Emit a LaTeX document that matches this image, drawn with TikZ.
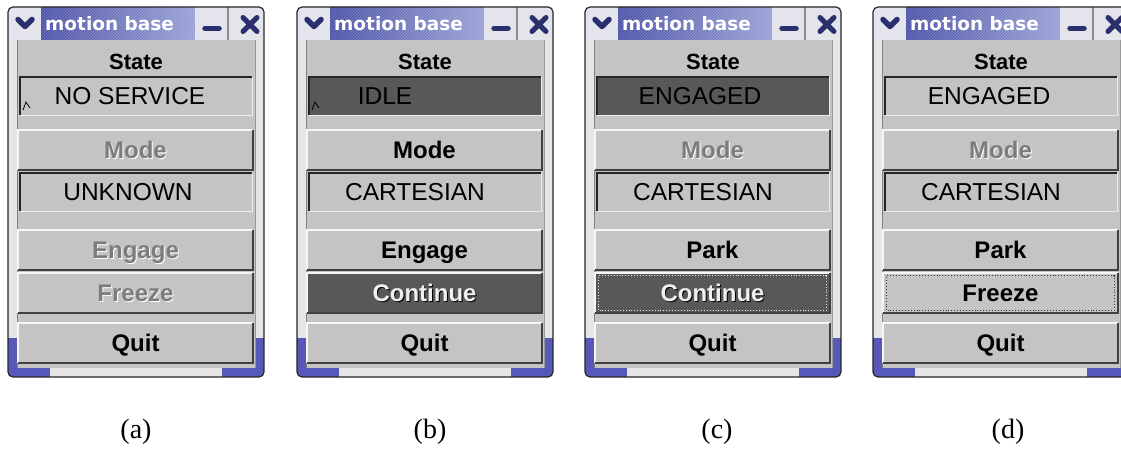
\documentclass[tikz,border=0pt]{standalone}
\usepackage{fontspec}
\setmainfont{Liberation Serif}
\newfontfamily\guifont{Liberation Sans}
\newfontfamily\titlefont{DejaVu Sans}
\usetikzlibrary{calc,patterns}
\definecolor{winGray}{HTML}{C4C4C4}
\definecolor{frameLight}{HTML}{E6E6E6}
\definecolor{darkField}{HTML}{585858}
\definecolor{navy}{HTML}{2B2F6E}
\definecolor{titleL}{HTML}{4A50A6}
\definecolor{titleR}{HTML}{98A0D6}
\definecolor{bandBlue}{HTML}{5659B9}
\definecolor{iconBg}{HTML}{E4E4EC}
\definecolor{disText}{HTML}{7C7C7C}
\newcommand\emb[3]{\makebox[0pt]{\hspace*{2pt}\raisebox{-1.2pt}{\color{#2}#1}}\makebox[0pt]{\color{#3}#1}}
\newcommand\sunken[1]{%
  \draw[white!85!gray, line width=1pt] (#1.south west)--(#1.south east)--(#1.north east);
  \draw[black!85, line width=1.6pt] (#1.south west)--(#1.north west)--(#1.north east);}
\newcommand\raised[1]{%
  \draw[white!85!winGray, line width=1.5pt] (#1.south west)--(#1.north west)--(#1.north east);
  \draw[black!75, line width=1.5pt] (#1.south west)--(#1.south east)--(#1.north east);}
\newcommand\mbframe[1]{%
  \begin{scope}
    \clip[rounded corners=5pt] (0,7) rectangle (256,377);
    \fill[frameLight] (0,7) rectangle (256,377);
    \fill[bandBlue] (0,338) rectangle (9,377);
    \fill[bandBlue] (247,338) rectangle (256,377);
    \fill[bandBlue] (0,368) rectangle (42,377);
    \fill[bandBlue] (214,368) rectangle (256,377);
    \fill[winGray] (9,40) rectangle (247,368);
    \fill[iconBg] (0,7) rectangle (33,40);
    \shade[left color=titleL, right color=titleR] (33,7) rectangle (187,40);
    \fill[pattern=north east lines, pattern color=white, opacity=0.25] (33,7) rectangle (187,40);
    \fill[iconBg] (187,7) rectangle (219,40);
    \fill[black!45] (219,7) rectangle (221,40);
    \fill[iconBg] (221,7) rectangle (256,40);
  \end{scope}
  \draw[black!85, line width=1.2pt, rounded corners=5pt] (0,7) rectangle (256,377);
  \draw[black!50, line width=0.6pt] (9,40) -- (9,368);
  \draw[black!40, line width=0.6pt] (247,40) -- (247,368);
  \draw[navy, line width=5.5pt, line cap=round, line join=round] (10,19.5) -- (17,26.5) -- (24,19.5);
  \draw[navy, line width=5.5pt, line cap=round] (197,28.5) -- (211,28.5);
  \draw[navy, line width=5pt, line cap=round] (235,17.5) -- (249,31.5) (235,31.5) -- (249,17.5);
  \node[titletext, anchor=west] (#1-title) at (37,23.5) {motion base};}
\tikzset{
  gui/.style={font=\guifont\fontsize{24.5}{24.5}\selectfont, inner sep=0pt, text height=17pt, text depth=0pt},
  fieldbox/.style={inner sep=0pt, minimum width=232pt, minimum height=38pt, fill=winGray},
  darkfieldbox/.style={fieldbox, fill=darkField},
  fieldtext/.style={gui, text=black},
  btn/.style={inner sep=0pt, minimum width=235pt, minimum height=40pt, fill=winGray,
    font=\guifont\bfseries\fontsize{24}{24}\selectfont, text height=17pt, text depth=0pt},
  darkbtn/.style={btn, fill=darkField},
  statelbl/.style={font=\guifont\bfseries\fontsize{22}{22}\selectfont, inner sep=0pt, text height=15.5pt, text depth=0pt},
  titletext/.style={font=\titlefont\bfseries\fontsize{18.5}{18.5}\selectfont, text=white, inner sep=0pt},
  caption/.style={font=\rmfamily\fontsize{28}{28}\selectfont, inner sep=0pt},
  caretmark/.style={black, line width=0.8pt},
  focusbox/.style={dotted, line width=0.9pt},
}
\begin{document}
\begin{tikzpicture}[x=1pt, y=-1pt]
\useasboundingbox (0,0) rectangle (1121,452);
\fill[white] (0,0) rectangle (1121,452);
% ---------- (a)
\begin{scope}[xshift=8pt]
  \mbframe{a}
  \node[statelbl] (a-statelbl) at (128,62) {State};
  \node[fieldbox] (a-state) at (128,96) {}; \sunken{a-state}
  \node[fieldtext] (a-statetext) at (122,96) {NO SERVICE};
  \draw[caretmark] (15,110) -- (18,102) -- (22,108);
  \node[btn] (a-mode) at (127.5,150) {\emb{Mode}{white}{disText}}; \raised{a-mode}
  \node[fieldbox] (a-modefield) at (128,192) {}; \sunken{a-modefield}
  \node[fieldtext] (a-modetext) at (120,192) {UNKNOWN};
  \node[btn] (a-b1) at (127.5,250) {\emb{Engage}{white}{disText}}; \raised{a-b1}
  \node[btn] (a-b2) at (127.5,293) {\emb{Freeze}{white}{disText}}; \raised{a-b2}
  \node[btn] (a-quit) at (127.5,343) {Quit}; \raised{a-quit}
\end{scope}
% ---------- (b)
\begin{scope}[xshift=297pt]
  \mbframe{b}
  \node[statelbl] (b-statelbl) at (128,62) {State};
  \node[darkfieldbox] (b-state) at (128,96) {}; \sunken{b-state}
  \node[fieldtext] (b-statetext) at (88,96) {IDLE};
  \draw[caretmark] (15,110) -- (18,102) -- (22,108);
  \node[btn] (b-mode) at (127.5,150) {Mode}; \raised{b-mode}
  \node[fieldbox] (b-modefield) at (128,192) {}; \sunken{b-modefield}
  \node[fieldtext] (b-modetext) at (118,192) {CARTESIAN};
  \node[btn] (b-b1) at (127.5,250) {Engage}; \raised{b-b1}
  \node[darkbtn] (b-b2) at (127.5,293) {\emb{Continue}{black}{white!88!gray}}; \raised{b-b2}
  \node[btn] (b-quit) at (127.5,343) {Quit}; \raised{b-quit}
\end{scope}
% ---------- (c)
\begin{scope}[xshift=585pt]
  \mbframe{c}
  \node[statelbl] (c-statelbl) at (128,62) {State};
  \node[darkfieldbox] (c-state) at (128,96) {}; \sunken{c-state}
  \node[fieldtext] (c-statetext) at (115,96) {ENGAGED};
  \node[btn] (c-mode) at (127.5,150) {\emb{Mode}{white}{disText}}; \raised{c-mode}
  \node[fieldbox] (c-modefield) at (128,192) {}; \sunken{c-modefield}
  \node[fieldtext] (c-modetext) at (118,192) {CARTESIAN};
  \node[btn] (c-b1) at (127.5,250) {Park}; \raised{c-b1}
  \node[darkbtn] (c-b2) at (127.5,293) {\emb{Continue}{black}{white!88!gray}}; \raised{c-b2}
  \draw[focusbox, white!80!gray] ($(c-b2.south west)+(4pt,3pt)$) rectangle ($(c-b2.north east)+(-4pt,-3pt)$);
  \node[btn] (c-quit) at (127.5,343) {Quit}; \raised{c-quit}
\end{scope}
% ---------- (d)
\begin{scope}[xshift=873pt]
  \mbframe{d}
  \node[statelbl] (d-statelbl) at (128,62) {State};
  \node[fieldbox] (d-state) at (128,96) {}; \sunken{d-state}
  \node[fieldtext] (d-statetext) at (116,96) {ENGAGED};
  \node[btn] (d-mode) at (127.5,150) {\emb{Mode}{white}{disText}}; \raised{d-mode}
  \node[fieldbox] (d-modefield) at (128,192) {}; \sunken{d-modefield}
  \node[fieldtext] (d-modetext) at (118,192) {CARTESIAN};
  \node[btn] (d-b1) at (127.5,250) {Park}; \raised{d-b1}
  \node[btn] (d-b2) at (127.5,293) {Freeze}; \raised{d-b2}
  \draw[focusbox, black!80] ($(d-b2.south west)+(4pt,3pt)$) rectangle ($(d-b2.north east)+(-4pt,-3pt)$);
  \node[btn] (d-quit) at (127.5,343) {Quit}; \raised{d-quit}
\end{scope}
% ---------- captions
\node[caption] (a-cap) at (136,432) {(a)};
\node[caption] (b-cap) at (430,432) {(b)};
\node[caption] (c-cap) at (717,432) {(c)};
\node[caption] (d-cap) at (1008,432) {(d)};
\end{tikzpicture}
\end{document}
